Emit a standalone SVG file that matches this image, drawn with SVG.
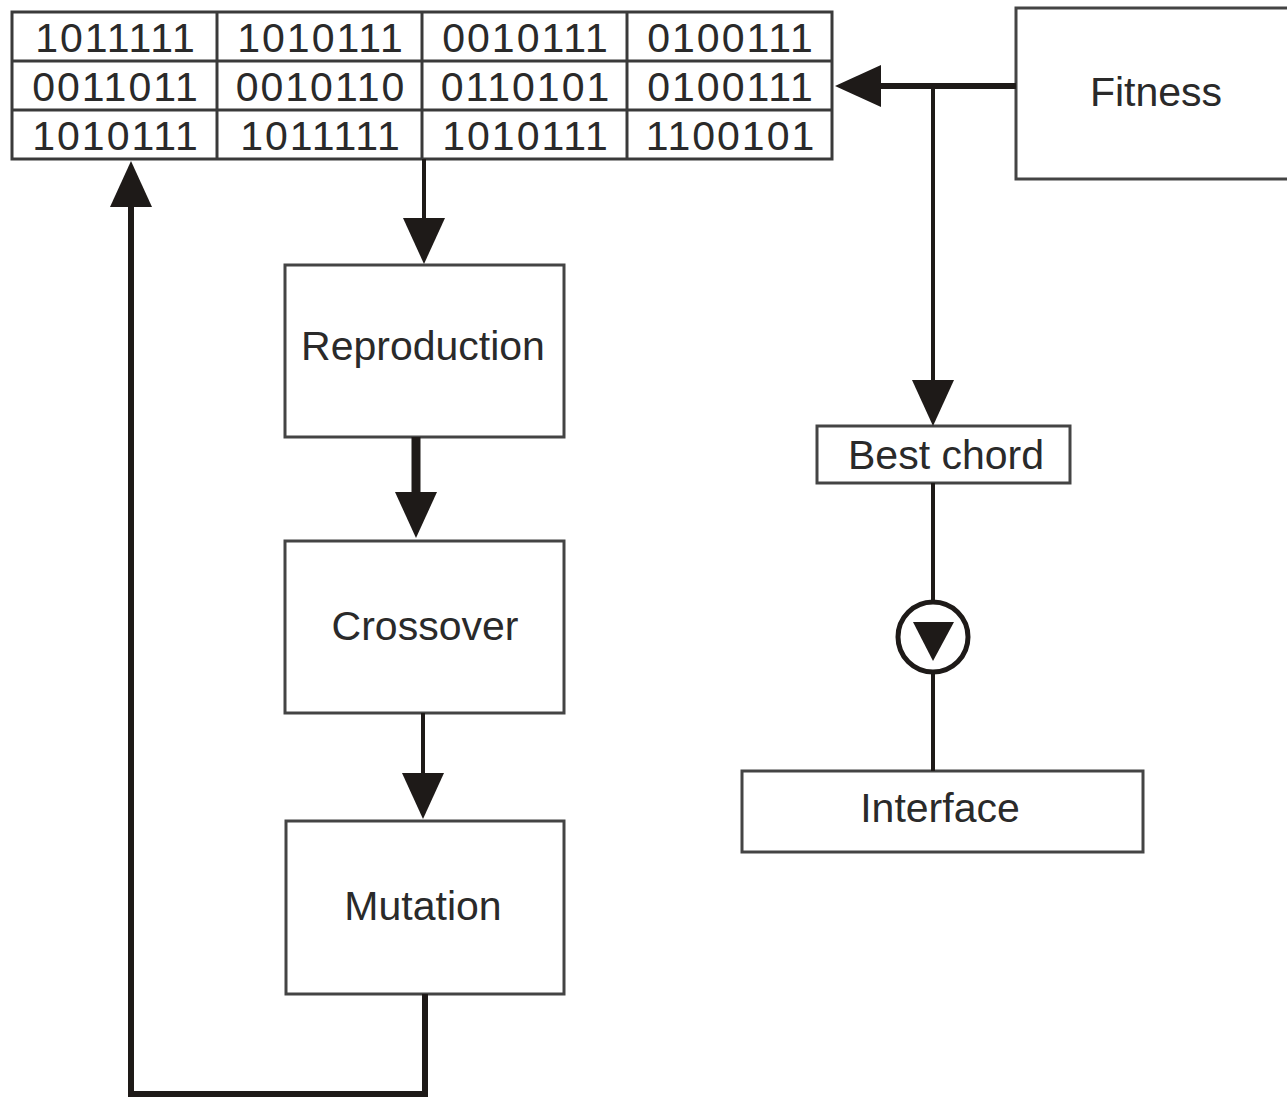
<svg xmlns="http://www.w3.org/2000/svg" width="1287" height="1099" viewBox="0 0 1287 1099">
<style>
.box{fill:#fff;stroke:#444;stroke-width:3}
.grid{fill:none;stroke:#3a3a3a;stroke-width:3}
.lbl{font-family:"Liberation Sans",Arial,sans-serif;font-size:41px;fill:#2a2a2a;text-anchor:middle}
.num{font-family:"Liberation Sans",Arial,sans-serif;font-size:41px;fill:#2a2a2a;text-anchor:middle;letter-spacing:2px}
.wire{fill:none;stroke:#1e1a18;stroke-linejoin:miter}
.arr{marker-end:url(#ah)}
</style>
<defs>
<marker id="ah" viewBox="0 0 46 42" refX="20" refY="21" markerWidth="46" markerHeight="42" markerUnits="userSpaceOnUse" orient="auto">
<path d="M0,0 L46,21 L0,42 z" fill="#1e1a18"/>
</marker>
</defs>
<rect width="1287" height="1099" fill="#fff"/>

<g id="population">
<rect class="grid" x="12" y="12" width="820" height="147" fill="#fff"/>
<line class="grid" x1="12" y1="61" x2="832" y2="61"/>
<line class="grid" x1="12" y1="110" x2="832" y2="110"/>
<line class="grid" x1="217" y1="12" x2="217" y2="159"/>
<line class="grid" x1="422" y1="12" x2="422" y2="159"/>
<line class="grid" x1="627" y1="12" x2="627" y2="159"/>
<text class="num" x="116" y="52">1011111</text>
<text class="num" x="321" y="52">1010111</text>
<text class="num" x="526" y="52">0010111</text>
<text class="num" x="731" y="52">0100111</text>
<text class="num" x="116" y="101">0011011</text>
<text class="num" x="321" y="101">0010110</text>
<text class="num" x="526" y="101">0110101</text>
<text class="num" x="731" y="101">0100111</text>
<text class="num" x="116" y="150">1010111</text>
<text class="num" x="321" y="150">1011111</text>
<text class="num" x="526" y="150">1010111</text>
<text class="num" x="731" y="150">1100101</text>
</g>

<g id="fitness">
<rect class="box" x="1016" y="8" width="290" height="171"/>
<text class="lbl" x="1156" y="106">Fitness</text>
</g>

<g id="reproduction">
<rect class="box" x="285" y="265" width="279" height="172"/>
<text class="lbl" x="423" y="360" font-size="42">Reproduction</text>
</g>

<g id="crossover">
<rect class="box" x="285" y="541" width="279" height="172"/>
<text class="lbl" x="425" y="640">Crossover</text>
</g>

<g id="mutation">
<rect class="box" x="286" y="821" width="278" height="173"/>
<text class="lbl" x="423" y="920">Mutation</text>
</g>

<g id="best-chord">
<rect class="box" x="817" y="426" width="253" height="57"/>
<text class="lbl" x="946" y="469" font-size="40">Best chord</text>
</g>

<g id="interface">
<rect class="box" x="742" y="771" width="401" height="81"/>
<text class="lbl" x="940" y="822" font-size="40">Interface</text>
</g>

<g id="connectors">
<path class="wire arr" d="M424,159 V238" stroke-width="4"/>
<path class="wire arr" d="M416,437 V512" stroke-width="9"/>
<path class="wire arr" d="M423,713 V793" stroke-width="4"/>
<path class="wire arr" d="M425,994 V1094 H131 V187" stroke-width="6"/>
<path class="wire arr" d="M1016,86 H861" stroke-width="6"/>
<path class="wire arr" d="M933,86 V400" stroke-width="4"/>
<path class="wire" d="M933,483 V601" stroke-width="4"/>
<path class="wire" d="M933,673 V771" stroke-width="4"/>
<g id="valve">
<circle cx="933" cy="637" r="35" fill="#fff" stroke="#1e1a18" stroke-width="5"/>
<polygon points="913,622 954,622 933,661" fill="#1e1a18"/>
</g>
</g>
</svg>
